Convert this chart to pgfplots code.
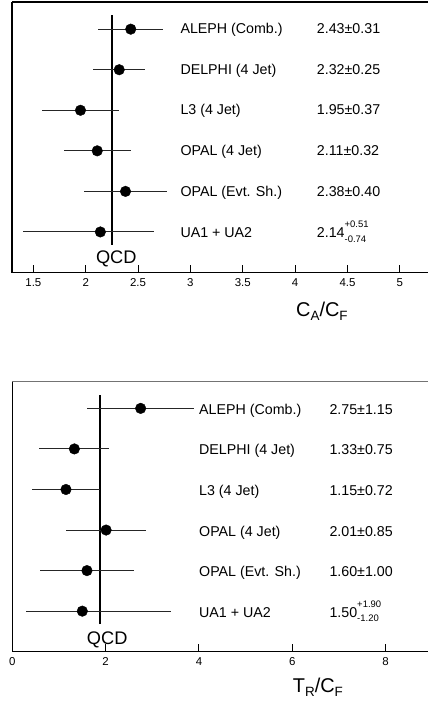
\documentclass[border=0pt]{standalone}
\usepackage{fontspec}
\setmainfont{Liberation Sans}
\usepackage{pgfplots}
\pgfplotsset{compat=1.18}
\begin{document}
\begin{tikzpicture}[x=1bp,y=1bp]
\pgfplotsset{
 panel/.style={
  scale only axis, anchor=south west, height=270.5bp,
  ymin=0, ymax=6.67, ytick=\empty,
  axis x line*=bottom, axis y line*=left,
  axis line style={line width=1.3bp, black, -},
  xtick align=inside, major tick length=8bp,
  minor tick num=0,
  tick style={line width=1bp, black},
  xticklabel style={font=\fontsize{11.5}{13}\selectfont, yshift=-2.5bp, /pgf/number format/assume math mode=true},
  clip=false,
 },
 dat/.style={only marks, mark=*, mark size=5.3bp, black,
  error bars/.cd, x dir=both, x explicit, error mark=none,
  error bar style={line width=1.05bp, black!85}},
 qcd/.style={line width=2.6bp, black},
}
% ---------- top panel ----------
\begin{axis}[panel, at={(12bp,-272.5bp)}, xmin=1.296, xmax=5.4, width=429.7bp,
  xtick={1.5,2,2.5,3,3.5,4,4.5,5}]
\draw[line width=1.3bp, black] (rel axis cs:0,1) -- (rel axis cs:1,1);
\addplot[qcd] coordinates {(2.25,0.68) (2.25,6.34)};
\addplot[dat] coordinates {
 (2.43,6) +- (0.31,0)
 (2.32,5) +- (0.25,0)
 (1.95,4) +- (0.37,0)
 (2.11,3) +- (0.32,0)
 (2.38,2) +- (0.40,0)
 (2.14,1) += (0.51,0) -= (0.74,0)
};
\end{axis}
% ---------- bottom panel ----------
\begin{axis}[panel, at={(12.3bp,-651.7bp)}, xmin=0, xmax=9.3, width=434bp,
  xtick={0,2,4,6,8}]
\draw[line width=1.3bp, black!55] (rel axis cs:0,1) -- (rel axis cs:1,1);
\addplot[qcd] coordinates {(1.875,0.68) (1.875,6.34)};
\addplot[dat] coordinates {
 (2.75,6) +- (1.15,0)
 (1.33,5) +- (0.75,0)
 (1.15,4) +- (0.72,0)
 (2.01,3) +- (0.85,0)
 (1.60,2) +- (1.00,0)
 (1.50,1) += (1.90,0) -= (1.20,0)
};
\end{axis}
% ---------- labels top ----------
\begin{scope}[every node/.style={anchor=base west, inner sep=0pt, font=\fontsize{14.3}{16}\selectfont}]
\node at (180.3,-33.7) {ALEPH (Comb.)};
\node at (180.3,-74.7) {DELPHI (4 Jet)};
\node at (180.3,-115) {L3 (4 Jet)};
\node at (180.3,-155.7) {OPAL (4 Jet)};
\node at (180.3,-196.7) {OPAL (Evt. Sh.)};
\node at (180.3,-237) {UA1 + UA2};
\node at (316.7,-33.7) {2.43\char"00B1 0.31};
\node at (316.7,-74.7) {2.32\char"00B1 0.25};
\node at (316.7,-115) {1.95\char"00B1 0.37};
\node at (316.7,-155.7) {2.11\char"00B1 0.32};
\node at (316.7,-196.7) {2.38\char"00B1 0.40};
\node at (316.7,-237) {2.14\rlap{\raisebox{10bp}{\fontsize{9.5}{10}\selectfont +0.51}}\raisebox{-5bp}{\fontsize{9.5}{10}\selectfont -0.74}};
% bottom
\node at (199,-414.7) {ALEPH (Comb.)};
\node at (199,-454.3) {DELPHI (4 Jet)};
\node at (199,-495.3) {L3 (4 Jet)};
\node at (199,-536) {OPAL (4 Jet)};
\node at (199,-576.7) {OPAL (Evt. Sh.)};
\node at (199,-617.3) {UA1 + UA2};
\node at (329.3,-414.7) {2.75\char"00B1 1.15};
\node at (329.3,-454.3) {1.33\char"00B1 0.75};
\node at (329.3,-495.3) {1.15\char"00B1 0.72};
\node at (329.3,-536) {2.01\char"00B1 0.85};
\node at (329.3,-576.7) {1.60\char"00B1 1.00};
\node at (329.3,-617.3) {1.50\rlap{\raisebox{9.6bp}{\fontsize{9.5}{10}\selectfont +1.90}}\raisebox{-4.4bp}{\fontsize{9.5}{10}\selectfont -1.20}};
\end{scope}
% QCD labels
\node[anchor=base, inner sep=0pt, font=\fontsize{18.3}{20}\selectfont] at (116.3,-263.3) {QCD};
\node[anchor=base, inner sep=0pt, font=\fontsize{18.3}{20}\selectfont] at (107.2,-644) {QCD};
% axis titles
\node[anchor=base west, inner sep=0pt, font=\fontsize{20}{22}\selectfont] at (296,-316.7)
 {C\raisebox{-4bp}{\fontsize{13.5}{14}\selectfont A}/C\raisebox{-4bp}{\fontsize{13.5}{14}\selectfont F}};
\node[anchor=base west, inner sep=0pt, font=\fontsize{20}{22}\selectfont] at (292.7,-692)
 {T\raisebox{-4bp}{\fontsize{13.5}{14}\selectfont R}/C\raisebox{-4bp}{\fontsize{13.5}{14}\selectfont F}};
\pgfresetboundingbox
\useasboundingbox (0,0) rectangle (427,-702);
\end{tikzpicture}
\end{document}
